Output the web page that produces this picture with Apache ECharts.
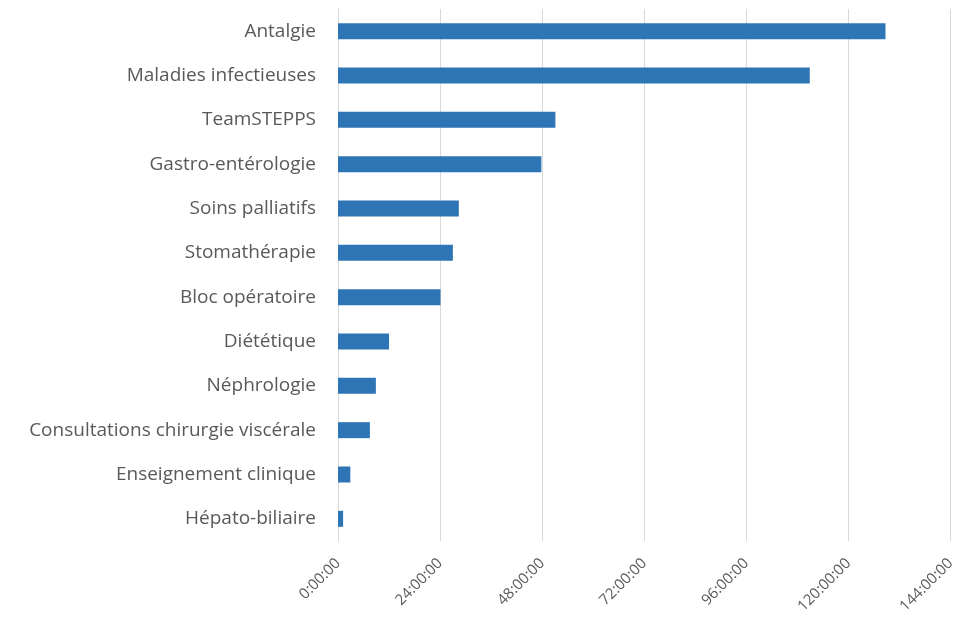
<!DOCTYPE html>
<html>
<head>
<meta charset="utf-8">
<script src="https://cdn.jsdelivr.net/npm/echarts@6/dist/echarts.min.js"></script>
<style>
  html, body { margin: 0; padding: 0; background: #fff; }
  #chart { width: 958px; height: 622px; }
</style>
</head>
<body>
<div id="chart"></div>
<script>
// Services, listed top to bottom
const services = [
  'Antalgie',
  'Maladies infectieuses',
  'TeamSTEPPS',
  'Gastro-entérologie',
  'Soins palliatifs',
  'Stomathérapie',
  'Bloc opératoire',
  'Diététique',
  'Néphrologie',
  'Consultations chirurgie viscérale',
  'Enseignement clinique',
  'Hépato-biliaire'
];
// Total time per service, in hours
const hours = [128.7, 110.9, 51.1, 47.8, 28.4, 27.0, 24.1, 12.0, 8.9, 7.5, 2.9, 1.2];
// Axis range and step, in hours
const axisMin = 0, axisMax = 144, axisStep = 24;

const chart = echarts.init(document.getElementById('chart'));
chart.setOption({
  animation: false,
  grid: { left: 338, right: 7, top: 9, bottom: 81, containLabel: false },
  xAxis: {
    type: 'value',
    min: axisMin,
    max: axisMax,
    interval: axisStep,
    axisLine: { show: false },
    axisTick: { show: false },
    splitLine: { lineStyle: { color: '#d9d9d9', width: 1 } },
    axisLabel: {
      rotate: 45,
      margin: 20,
      color: '#595959',
      fontFamily: 'Open Sans',
      fontSize: 15,
      formatter: v => v + ':00:00'
    }
  },
  yAxis: {
    type: 'category',
    data: services,
    inverse: true,
    axisLine: { show: true, lineStyle: { color: '#d9d9d9', width: 1 } },
    axisTick: { show: false },
    axisLabel: {
      margin: 22,
      color: '#595959',
      fontFamily: 'Open Sans',
      fontSize: 19
    }
  },
  series: [{
    type: 'bar',
    data: hours,
    barWidth: 16,
    itemStyle: { color: '#2e75b6' }
  }]
});
</script>
</body>
</html>
